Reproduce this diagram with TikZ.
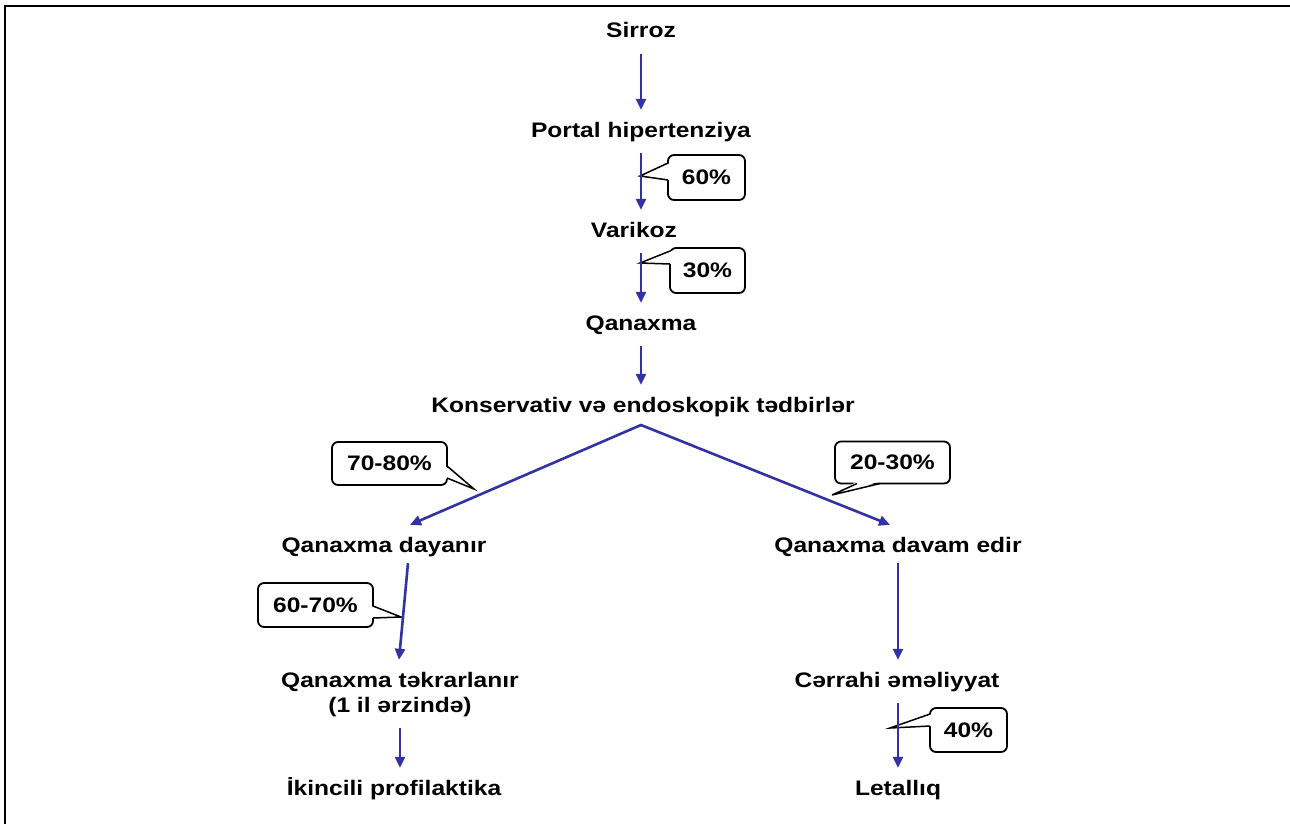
\documentclass[tikz,border=0pt]{standalone}
\usepackage{fontspec}
\setmainfont{Liberation Sans}[FakeStretch=1.17]
\usetikzlibrary{arrows.meta,calc}
\definecolor{arrowblue}{RGB}{50,50,165}
\begin{document}
\begin{tikzpicture}[x=1pt,y=-1pt,
  lbl/.style={font=\bfseries\fontsize{21}{24}\selectfont, anchor=base, text height=15pt, text depth=4pt, inner xsep=2pt, inner ysep=12pt},
  conn/.style={draw=arrowblue, line width=2.6pt, -{Triangle[length=11pt,width=10pt]}},
  callbox/.style={draw, line width=1.8pt, rounded corners=6pt, fill=white, inner sep=0pt, font=\bfseries\fontsize{21}{24}\selectfont},
  ptr/.style={line width=1.5pt, line join=miter}
]
\useasboundingbox (0,0) rectangle (1290,823);
\draw[line width=1.8pt] (5,830) -- (5,6) -- (1300,6);

% labels
\node[lbl] (s)  at (641,37.5) {Sirroz};
\node[lbl] (p)  at (641,137)  {Portal hipertenziya};
\node[lbl] (v)  at (634,237)  {Varikoz};
\node[lbl] (q)  at (641,330)  {Qanaxma};
\node[lbl] (k)  at (643,412)  {Konservativ və endoskopik tədbirlər};
\node[lbl] (l)  at (384,552)  {Qanaxma dayanır};
\node[lbl] (r)  at (898,552)  {Qanaxma davam edir};
\node[lbl] (t1) at (400,687)  {Qanaxma təkrarlanır};
\node[lbl] (t2) at (400,712)  {(1 il ərzində)};
\node[lbl] (ik) at (394,795)  {İkincili profilaktika};
\node[lbl] (c)  at (897,687)  {Cərrahi əməliyyat};
\node[lbl] (le) at (898,795)  {Letallıq};
\coordinate (apex) at (641,425);

% callouts
\node[callbox, minimum width=77pt, minimum height=45pt] (c60) at (706.5,177.5) {60\%};
\fill[white] (670,163) -- (642,176) -- (670,180) -- cycle;
\draw[ptr] (668,163) -- (640,176) -- (668,180);

\node[callbox, minimum width=75pt, minimum height=45pt] (c30) at (707.5,270.5) {30\%};
\fill[white] (672,251) -- (642,263) -- (672,264) -- cycle;
\draw[ptr] (670,251) -- (640,263) -- (670,264);

\node[callbox, minimum width=115pt, minimum height=43pt] (c7080) at (389.5,463.5) {70-80\%};
\fill[white] (445,466) -- (473,489) -- (445,478) -- cycle;
\draw[ptr] (447,466) -- (474,489) -- (447,478);

\node[callbox, minimum width=115pt, minimum height=42pt] (c2030) at (892.5,462.5) {20-30\%};
\fill[white] (857,481.5) -- (833,495) -- (880,481.5) -- cycle;
\draw[ptr] (857,483.5) -- (832,495) -- (880,483.5);

\node[callbox, minimum width=115pt, minimum height=44pt] (c6070) at (315.5,605) {60-70\%};
\fill[white] (371,606) -- (400,617) -- (371,618) -- cycle;
\draw[ptr] (373,606) -- (401,617) -- (373,618);

\node[callbox, minimum width=77pt, minimum height=44pt] (c40) at (968.5,730) {40\%};
\fill[white] (932,714) -- (892,728) -- (932,726) -- cycle;
\draw[ptr] (930,714) -- (890,728) -- (930,726);

% connectors
\draw[conn] (s.south) -- (p.north);
\draw[conn] (p.south) -- (p.south |- v.north);
\draw[conn] (p.south |- v.south) -- (q.north);
\draw[conn] (q.south) -- (q.south |- k.north);
\draw[conn, line join=miter, {Triangle[length=11pt,width=10pt]}-{Triangle[length=11pt,width=10pt]}] ([xshift=26pt]l.north) -- (apex) -- ([xshift=-8pt]r.north);
\draw[conn] ([xshift=24pt,yshift=5pt]l.south) -- ([xshift=-1pt]t1.north);
\draw[conn] (t2.south) -- (t2.south |- ik.north);
\draw[conn] ([yshift=5pt]r.south) -- (r.south |- c.north);
\draw[conn] (le.north |- c.south) -- (le.north);
\end{tikzpicture}
\end{document}
